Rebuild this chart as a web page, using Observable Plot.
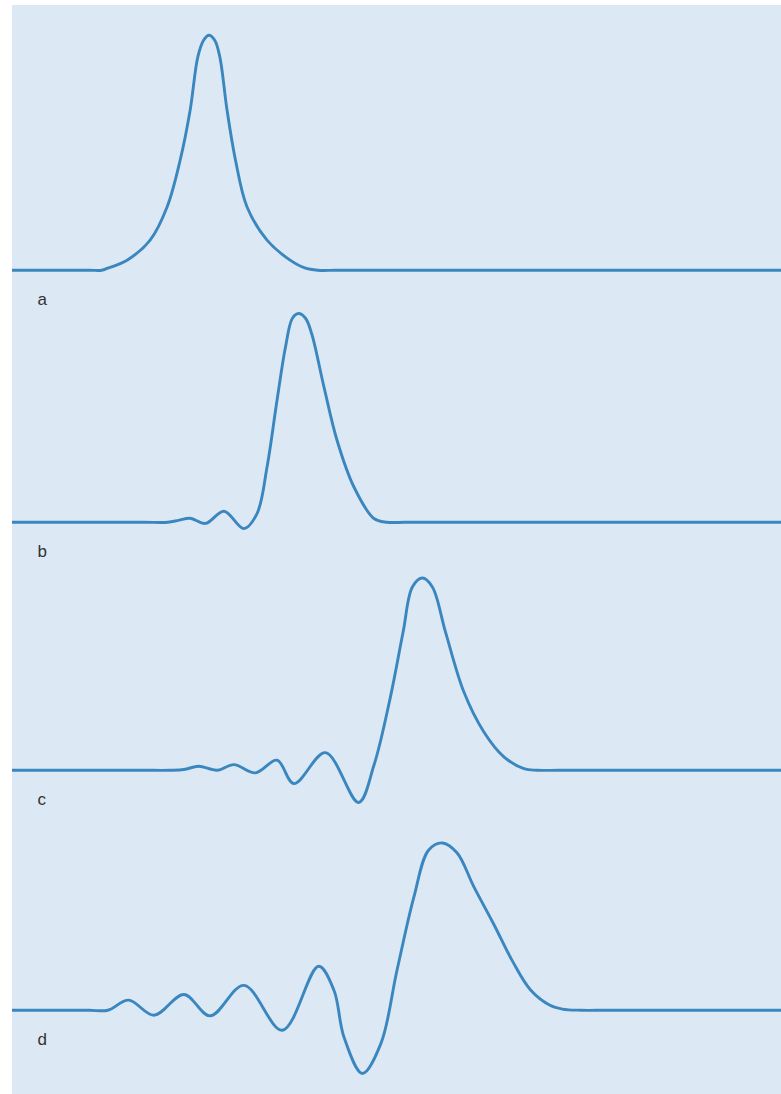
<!DOCTYPE html>
<html>
<head>
<meta charset="utf-8">
<script src="https://cdn.jsdelivr.net/npm/d3@7"></script>
<script src="https://cdn.jsdelivr.net/npm/@observablehq/plot@0.6"></script>
<style>
  html, body { margin: 0; padding: 0; background: #ffffff; }
  #panel {
    position: absolute; left: 12px; top: 5px; width: 769px; height: 1089px;
    background: #dde8f5; overflow: hidden;
  }
  #panel svg { position: absolute; left: 0; background: transparent; overflow: visible; }
</style>
</head>
<body>
<div id="panel"></div>
<script>
// Panel labels
const labels = ["a", "b", "c", "d"];

// Wave form x positions (arbitrary time units 0–100) and amplitudes (peak of a = 100)
const xA = [0, 5, 10, 11.6, 12.4, 14.9, 17.9, 20.1, 21.8, 23.1, 24.1, 24.85, 25.55, 26.3, 26.96, 27.9, 29.0, 30.5, 33.1, 36.1, 38.0, 39.7, 42, 46, 52, 60, 70, 80, 90, 100];
const yA = [0, 0, 0, 0, 0.9, 4.3, 12.8, 26.9, 46.8, 68.1, 90.8, 97.9, 100, 97.9, 90.8, 68.1, 46.8, 26.9, 12.8, 4.3, 1.0, 0, 0, 0, 0, 0, 0, 0, 0, 0];

const xB = [0, 10, 17, 20.2, 21.6, 23.1, 25.1, 27.5, 30.1, 31.8, 33.1, 34.4, 35.5, 36.4, 37.2, 38.1, 38.9, 40.5, 42.2, 44.4, 47.0, 48.7, 51, 55, 62, 70, 80, 90, 100];
const yB = [0, 0, 0, 0, 0.8, 1.7, -0.5, 4.7, -2.7, 3.7, 23.5, 51.9, 74.6, 86.8, 88.8, 86.8, 80.3, 57.6, 34.9, 15.0, 1.6, 0, 0, 0, 0, 0, 0, 0, 0];

const xC = [0, 10, 17, 20.5, 22.3, 24.2, 26.6, 28.8, 31.6, 34.4, 36.6, 40.7, 45.0, 47.0, 49.1, 50.8, 52.0, 53.3, 54.6, 56.3, 58.7, 61.3, 63.9, 66.5, 68.2, 71, 75, 80, 90, 100];
const yC = [0, 0, 0, 0, 0.3, 1.7, 0, 2.4, -1.1, 4.3, -5.7, 7.5, -13.7, 2.1, 30.5, 58.9, 78.0, 81.8, 78.0, 58.9, 33.3, 16.3, 5.7, 0.7, 0, 0, 0, 0, 0, 0];

const xD = [0, 6, 10, 12.4, 15.1, 18.4, 22.3, 25.7, 30.1, 35.1, 39.8, 41.8, 43.1, 45.5, 47.9, 50.0, 52.2, 54.1, 55.9, 57.8, 60.0, 62.6, 65.0, 67.4, 69.9, 71.5, 73.9, 77, 82, 90, 100];
const yD = [0, 0, 0, 0, 4.3, -2.1, 6.7, -2.4, 10.6, -8.5, 18.7, 8.5, -11.4, -26.9, -14.2, 17.0, 48.2, 68.1, 71.2, 67.0, 52.5, 36.5, 21.0, 8.5, 2.1, 0.5, 0, 0, 0, 0, 0];

const series = [[xA, yA], [xB, yB], [xC, yC], [xD, yD]];
// baseline position of each panel inside the blue panel (px)
const baselines = [265, 517, 765, 1005];

const yMin = -30, yMax = 105, pxPerUnit = 2.35;
const H = (yMax - yMin) * pxPerUnit;
const panel = document.getElementById("panel");

series.forEach(([xs, ys], i) => {
  const data = xs.map((x, j) => ({x, y: ys[j]}));
  const chart = Plot.plot({
    width: 769,
    height: H,
    margin: 0,
    x: {domain: [0, 100], axis: null},
    y: {domain: [yMin, yMax], axis: null},
    style: {background: "transparent", overflow: "visible"},
    marks: [
      Plot.line(data, {x: "x", y: "y", curve: "catmull-rom", stroke: "#3a87bf", strokeWidth: 2.9}),
      Plot.text([labels[i]], {
        text: d => d, frameAnchor: "bottom-left", dx: 25, dy: -41,
        lineAnchor: "middle", fontSize: 17, fill: "#333333",
        fontFamily: "Liberation Sans, Arial, sans-serif"
      })
    ]
  });
  chart.style.top = (baselines[i] - yMax * pxPerUnit) + "px";
  panel.appendChild(chart);
});
</script>
</body>
</html>
